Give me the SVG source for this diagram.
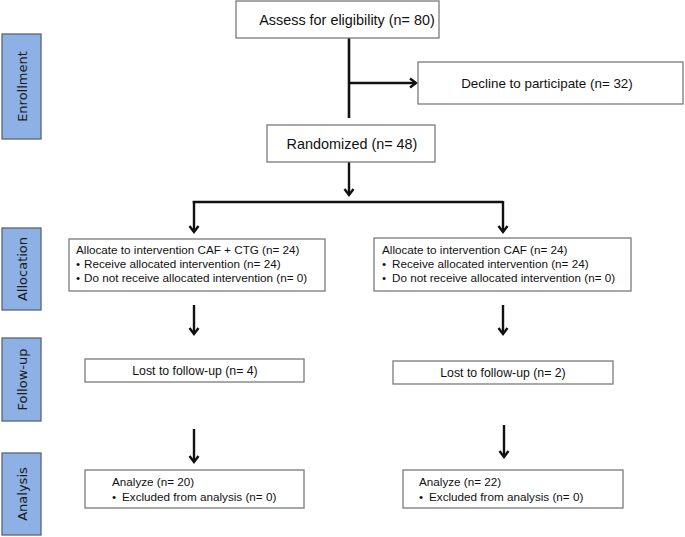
<svg xmlns="http://www.w3.org/2000/svg" width="685" height="537" viewBox="0 0 685 537">
<defs>
<marker id="chev" viewBox="0 0 12 12" refX="10" refY="6" markerWidth="12" markerHeight="12" markerUnits="userSpaceOnUse" orient="auto">
<path d="M4,1.5 L10,6 L4,10.5" fill="none" stroke="#111" stroke-width="2.4" stroke-linejoin="miter"/>
</marker>
</defs>
<style>
.box{fill:#fff;stroke:#7a7a7a;stroke-width:1.3}
.side{fill:#8db0e5;stroke:#5a6478;stroke-width:1.3}
.st{font-family:"DejaVu Sans",sans-serif;font-size:13px;fill:#1a1a1a;text-anchor:middle}
.t1{font-family:"Liberation Sans",Arial,sans-serif;font-size:14.4px;fill:#111}
.t2{font-family:"Liberation Sans",Arial,sans-serif;font-size:13.4px;fill:#111}
.t3{font-family:"Liberation Sans",Arial,sans-serif;font-size:11.7px;fill:#111}
.t4{font-family:"Liberation Sans",Arial,sans-serif;font-size:12.3px;fill:#111}
.c{text-anchor:middle}
.ln{fill:none;stroke:#111;stroke-width:2.6}
.ar{fill:none;stroke:#111;stroke-width:2.4;marker-end:url(#chev)}
</style>
<g id="side-enrollment"><rect class="side" x="2" y="34" width="39" height="105"/><text class="st" transform="translate(26.5,86.5) rotate(-90)">Enrollment</text></g>
<g id="side-allocation"><rect class="side" x="2" y="228" width="39" height="82"/><text class="st" transform="translate(26.5,269) rotate(-90)">Allocation</text></g>
<g id="side-followup"><rect class="side" x="2" y="338" width="39" height="83"/><text class="st" transform="translate(26.5,379.5) rotate(-90)">Follow-up</text></g>
<g id="side-analysis"><rect class="side" x="2" y="453" width="39" height="82"/><text class="st" transform="translate(26.5,494) rotate(-90)">Analysis</text></g>

<g id="connectors">
<path class="ln" d="M349,38 V118"/>
<path class="ar" d="M349,83 H416"/>
<path class="ar" d="M349,162 V195"/>
<path class="ln" d="M192.7,202 H503"/>
<path class="ar" d="M194,201 V232"/>
<path class="ar" d="M503,201 V232"/>
<path class="ar" d="M194,305 V334"/>
<path class="ar" d="M503,305 V334"/>
<path class="ar" d="M194,429 V462"/>
<path class="ar" d="M504,425 V457"/>
</g>

<g id="assess"><rect class="box" x="236" y="1" width="203" height="37"/><text class="t1 c" x="347" y="25">Assess for eligibility (n= 80)</text></g>
<g id="decline"><rect class="box" x="418" y="62" width="265" height="42"/><text class="t2 c" x="547" y="88">Decline to participate (n= 32)</text></g>
<g id="randomized"><rect class="box" x="267" y="125" width="168" height="37"/><text class="t1 c" x="352" y="149">Randomized (n= 48)</text></g>

<g id="alloc-left"><rect class="box" x="69" y="239" width="256" height="52"/>
<text class="t3" x="76" y="254">Allocate to intervention CAF + CTG (n= 24)</text>
<text class="t3" x="76" y="268">•</text><text class="t3" x="84" y="268">Receive allocated intervention (n= 24)</text>
<text class="t3" x="76" y="282">•</text><text class="t3" x="84" y="282">Do not receive allocated intervention (n= 0)</text></g>
<g id="alloc-right"><rect class="box" x="374" y="238" width="257" height="53"/>
<text class="t3" x="382" y="254">Allocate to intervention CAF (n= 24)</text>
<text class="t3" x="382" y="268">•</text><text class="t3" x="392" y="268">Receive allocated intervention (n= 24)</text>
<text class="t3" x="382" y="282">•</text><text class="t3" x="392" y="282">Do not receive allocated intervention (n= 0)</text></g>

<g id="lost-left"><rect class="box" x="85" y="359" width="219" height="23"/><text class="t4 c" x="195" y="375">Lost to follow-up (n= 4)</text></g>
<g id="lost-right"><rect class="box" x="393" y="361" width="220" height="23"/><text class="t4 c" x="503" y="377">Lost to follow-up (n= 2)</text></g>

<g id="analyze-left"><rect class="box" x="85" y="470" width="219" height="38"/>
<text class="t3" x="112" y="486">Analyze (n= 20)</text>
<text class="t3" x="112" y="501">•</text><text class="t3" x="122" y="501">Excluded from analysis (n= 0)</text></g>
<g id="analyze-right"><rect class="box" x="403" y="470" width="220" height="38"/>
<text class="t3" x="419" y="486">Analyze (n= 22)</text>
<text class="t3" x="419" y="501">•</text><text class="t3" x="429" y="501">Excluded from analysis (n= 0)</text></g>
</svg>
